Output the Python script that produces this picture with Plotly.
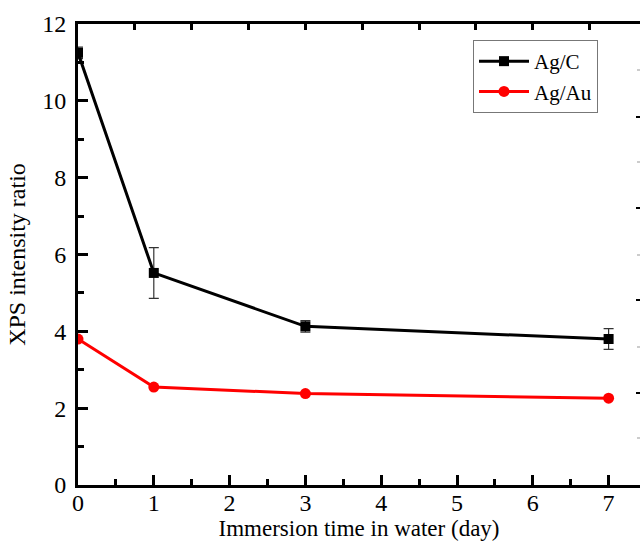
import plotly.graph_objects as go

days = [0, 1, 3, 7]
ag_c = [11.25, 5.52, 4.13, 3.80]
ag_c_err = [0.15, 0.66, 0.15, 0.27]
ag_au = [3.80, 2.55, 2.38, 2.26]
ag_au_err = [0.05, 0.05, 0.05, 0.05]

W, H = 640, 547
L, T, B = 78, 24, 62
font = "Liberation Serif"

fig = go.Figure()
fig.add_trace(go.Scatter(
    x=days, y=ag_c, name="Ag/C", mode="lines+markers",
    line=dict(color="black", width=3),
    marker=dict(symbol="square", size=10, color="black"),
    error_y=dict(type="data", array=ag_c_err, color="#333", thickness=1.2, width=5),
))
fig.add_trace(go.Scatter(
    x=days, y=ag_au, name="Ag/Au", mode="lines+markers",
    line=dict(color="#ff0000", width=3),
    marker=dict(symbol="circle", size=11, color="#ff0000"),
    error_y=dict(type="data", array=ag_au_err, color="#ff0000", thickness=1, width=4),
))
fig.add_trace(go.Scatter(x=[0], y=[0], xaxis="x2", mode="markers",
                         marker=dict(opacity=0), showlegend=False, hoverinfo="skip"))

xmax = (W - L) / 75.8
fig.update_layout(
    width=W, height=H,
    margin=dict(l=L, r=0, t=T, b=B),
    paper_bgcolor="white", plot_bgcolor="white",
    font=dict(family=font, size=22, color="black"),
    xaxis=dict(
        range=[0, xmax], showgrid=False, zeroline=False,
        showline=True, linecolor="black", linewidth=3,
        ticks="inside", ticklen=10, tickwidth=2.5, tickcolor="black",
        tickmode="linear", tick0=0, dtick=1,
        minor=dict(ticks="inside", ticklen=6, tickwidth=2.5, tickcolor="black", dtick=0.5),
        title=dict(text="Immersion time in water (day)", font=dict(family=font, size=23), standoff=0),
        tickfont=dict(family=font, size=24), ticklabelstandoff=-6,
    ),
    xaxis2=dict(
        range=[0, xmax], overlaying="x", side="top", showgrid=False, zeroline=False,
        showline=True, linecolor="black", linewidth=3,
        ticks="inside", ticklen=6, tickwidth=2.5, tickcolor="black",
        tickmode="linear", tick0=0, dtick=0.75, showticklabels=False,
    ),
    yaxis=dict(
        range=[0, 12], showgrid=False, zeroline=False,
        showline=True, linecolor="black", linewidth=3,
        ticks="inside", ticklen=10, tickwidth=2.5, tickcolor="black",
        tickmode="linear", tick0=0, dtick=2,
        minor=dict(ticks="inside", ticklen=6, tickwidth=2.5, tickcolor="black", dtick=1),
        title=dict(text="XPS intensity ratio", font=dict(family=font, size=24), standoff=10),
        tickfont=dict(family=font, size=24), ticklabelstandoff=4,
    ),
    legend=dict(
        x=(473 - L) / (W - L), y=1 - (40 - T) / (H - T - B),
        xanchor="left", yanchor="top",
        bordercolor="#777", borderwidth=1, bgcolor="white",
        font=dict(family=font, size=21), itemwidth=50, tracegroupgap=0,
    ),
    showlegend=True,
)

ph = H - T - B
for py, c, ln in [(70, "#ccc", 3), (117, "black", 4), (162, "#ccc", 3), (208, "black", 4),
                  (255, "#ccc", 3), (300, "black", 4), (347, "#ccc", 3), (393, "black", 4),
                  (438, "#ccc", 3)]:
    yy = (H - B - py) / ph
    fig.add_shape(type="line", xref="paper", yref="paper",
                  x0=1 - ln / (W - L), x1=1.0, y0=yy, y1=yy,
                  line=dict(color=c, width=2))

fig.write_html("out.html")
